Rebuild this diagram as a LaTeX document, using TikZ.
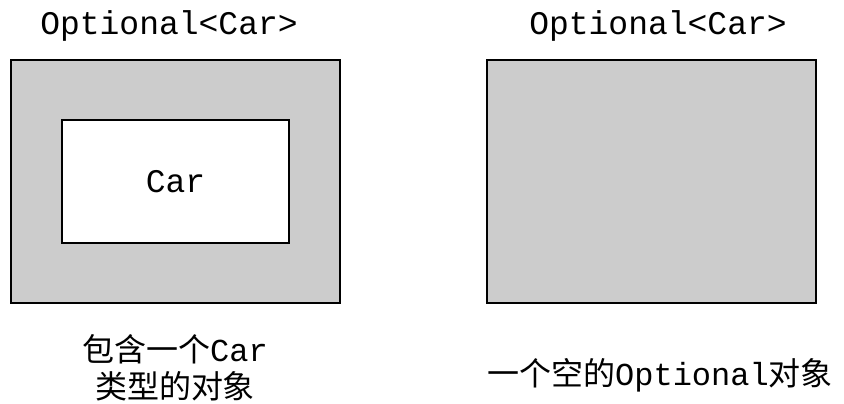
\documentclass[tikz,border=0pt]{standalone}
\usepackage{fontspec}
\setmonofont{Liberation Mono}
\newfontfamily\cjk{Noto Sans CJK SC}
\definecolor{boxgray}{RGB}{204,204,204}
\begin{document}
\begin{tikzpicture}[x=1pt,y=-1pt,
  frame/.style={draw=black,line width=1.8pt,rectangle,inner sep=0pt},
  mono/.style={font=\fontsize{33}{36}\selectfont\ttfamily,inner sep=0pt},
  caption/.style={font=\fontsize{32}{37}\selectfont\cjk,inner sep=0pt,align=center}]
\useasboundingbox (0,0) rectangle (844,404);
% left
\node[frame,fill=boxgray,minimum width=329pt,minimum height=243pt] (outerL) at (175.5,181.5) {};
\node[frame,fill=white,minimum width=227pt,minimum height=123pt] (car) at (175.5,181.5) {};
\node[mono] (carlabel) at (car.center) {Car};
\node[mono] (titleL) at (169,26) {Optional<Car>};
\node[caption] (capL) at (175,368) {包含一个{\ttfamily Car}\\类型的对象};
% right
\node[frame,fill=boxgray,minimum width=329pt,minimum height=243pt] (outerR) at (651.5,181.5) {};
\node[mono] (titleR) at (658,26) {Optional<Car>};
\node[caption] (capR) at (660,375) {一个空的{\ttfamily Optional}对象};
\end{tikzpicture}
\end{document}
